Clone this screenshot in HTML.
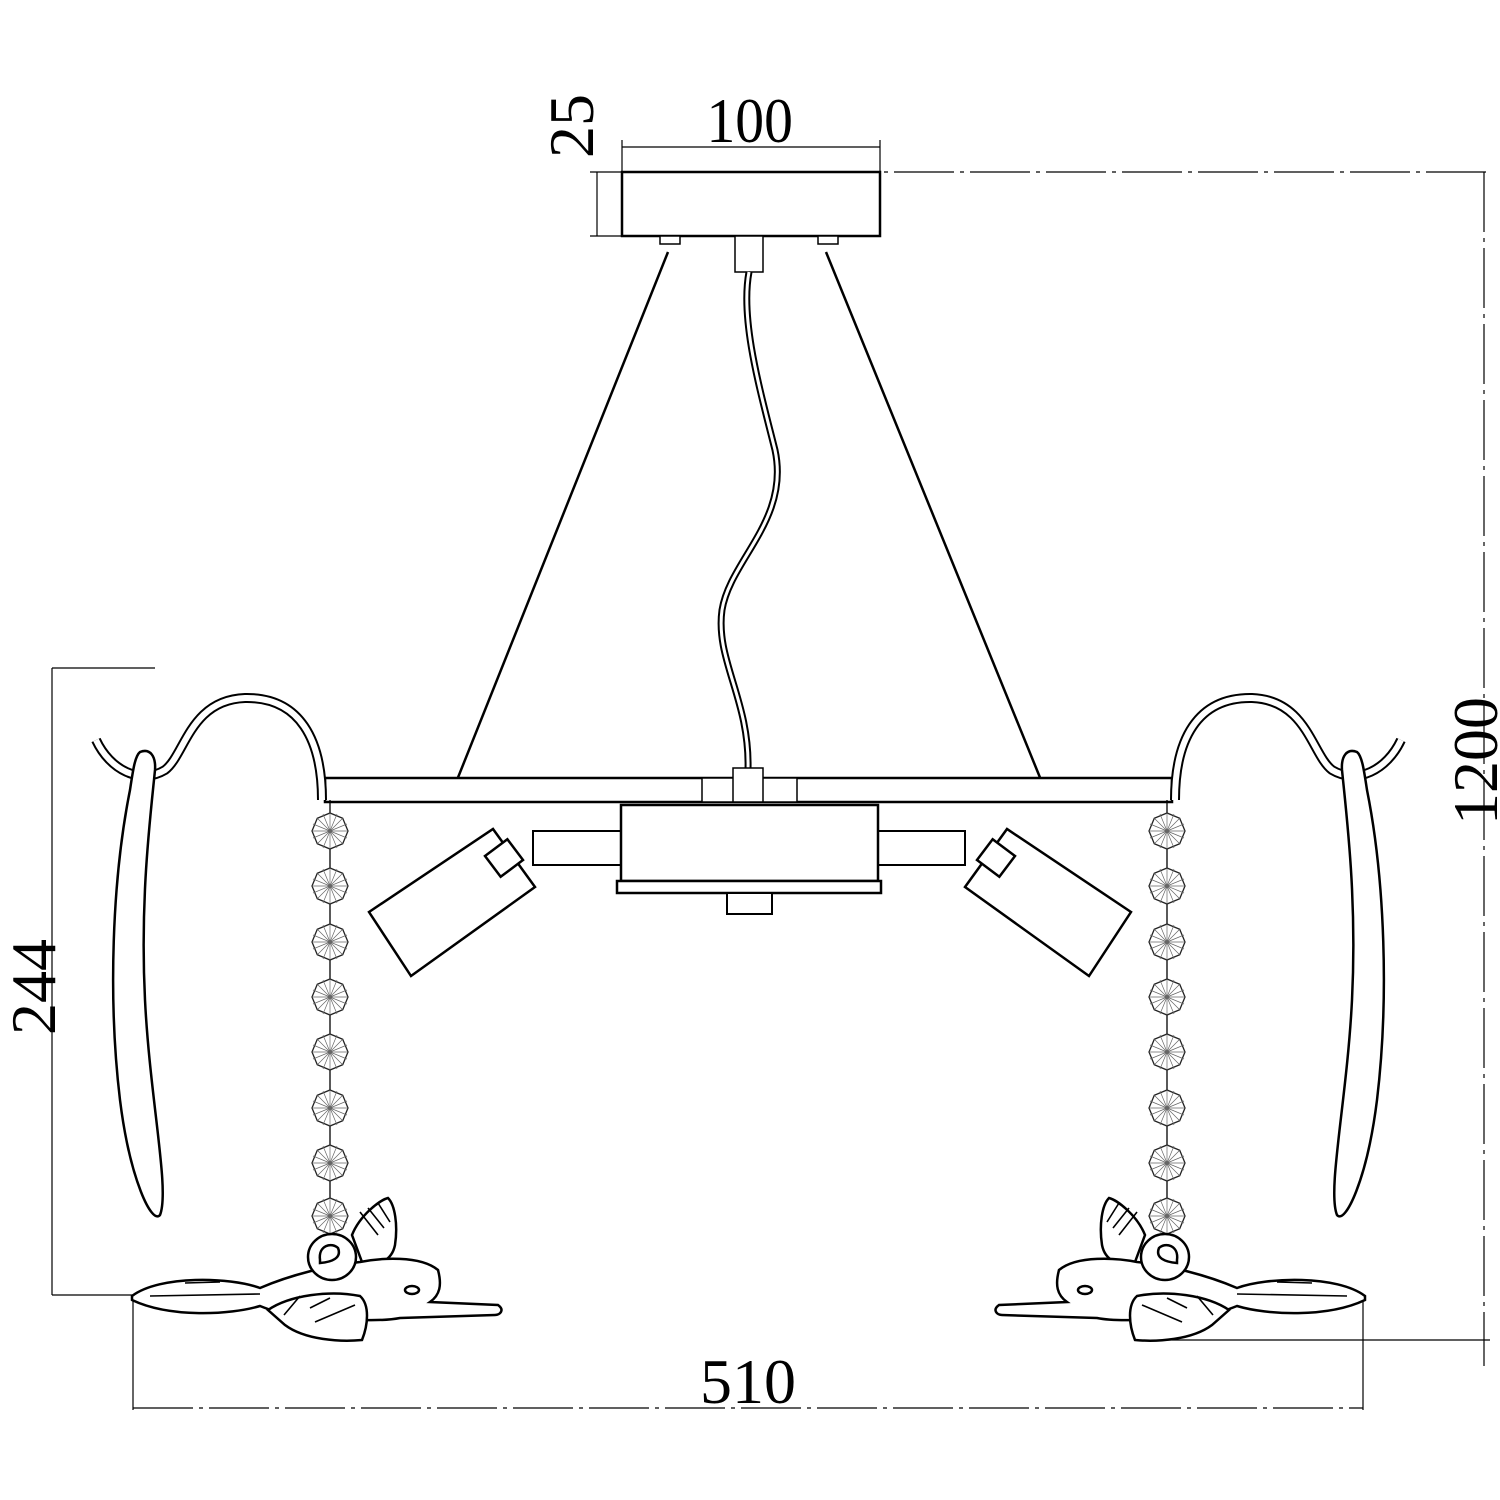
<!DOCTYPE html>
<html><head><meta charset="utf-8"><style>html,body{margin:0;padding:0;background:#fff}svg{display:block}</style></head>
<body>
<svg width="1500" height="1500" viewBox="0 0 1500 1500" xmlns="http://www.w3.org/2000/svg">
<defs>
<g id="cry">
<polygon points="0,-18 12.7,-12.7 18,0 12.7,12.7 0,18 -12.7,12.7 -18,0 -12.7,-12.7" fill="#fff" stroke="#222" stroke-width="1.3"/>
<path d="M0,-18L0,18M-18,0L18,0M-12.7,-12.7L12.7,12.7M12.7,-12.7L-12.7,12.7M-7,-17L7,17M7,-17L-7,17M-17,-7L17,7M-17,7L17,-7" stroke="#666" stroke-width="0.7"/>
</g>
<g id="half">
<!-- arm -->
<path d="M96,740 C110,770 140,785 165,770 C185,755 190,700 245,698 C300,697 322,740 322,800" fill="none" stroke="#000" stroke-width="10"/>
<path d="M96,740 C110,770 140,785 165,770 C185,755 190,700 245,698 C300,697 322,740 322,800" fill="none" stroke="#fff" stroke-width="6"/>
<!-- leaf -->
<path d="M140,752 C150,748 156,756 155,770 C150,820 140,900 145,1000 C150,1100 170,1190 160,1215 C152,1225 130,1180 120,1100 C108,1000 112,880 130,790 C133,770 135,756 140,752 Z" fill="#fff" stroke="#000" stroke-width="2.5"/>
<!-- chain -->
<line x1="330" y1="800" x2="330" y2="1240" stroke="#000" stroke-width="1.3"/>
<use href="#cry" x="330" y="831"/><use href="#cry" x="330" y="886"/><use href="#cry" x="330" y="942"/><use href="#cry" x="330" y="997"/><use href="#cry" x="330" y="1052"/><use href="#cry" x="330" y="1108"/><use href="#cry" x="330" y="1163"/><use href="#cry" x="330" y="1216"/>
<!-- bird -->
<g fill="#fff" stroke="#000" stroke-width="2.5">
<path d="M352,1235 C360,1215 380,1200 388,1198 C395,1205 398,1225 395,1245 C392,1260 378,1268 362,1262 Z"/>
<path d="M132,1296 C160,1275 230,1277 260,1288 C290,1275 330,1265 360,1262 C380,1258 420,1255 438,1270 C442,1285 440,1295 430,1302 L498,1305 C505,1310 500,1315 495,1315 L400,1318 C380,1322 340,1320 300,1315 C280,1314 270,1310 260,1306 C230,1315 170,1318 132,1300 Z"/>
<path d="M268,1310 C290,1295 330,1290 360,1296 C370,1305 368,1325 362,1340 C340,1342 305,1340 285,1325 Z"/>
<ellipse cx="332" cy="1257" rx="24" ry="23"/>
<path d="M320,1260 C318,1245 332,1242 338,1248 C342,1258 332,1262 320,1263 Z"/>
<ellipse cx="412" cy="1290" rx="7" ry="4"/>
</g>
<path d="M150,1296 L260,1294 M185,1283 L220,1282 M300,1296 L284,1315 M310,1308 L330,1298 M315,1322 L355,1305 M360,1212 L378,1235 M368,1208 L384,1228 M378,1203 L390,1222" stroke="#000" stroke-width="1.6" fill="none"/>
</g>
</defs>

<g font-family="'Liberation Serif',serif" fill="#000">
<!-- dimension lines -->
<g stroke="#000" stroke-width="1.2" fill="none">
<line x1="622" y1="147" x2="880" y2="147"/>
<line x1="622" y1="140" x2="622" y2="172"/>
<line x1="880" y1="140" x2="880" y2="172"/>
<line x1="597" y1="172" x2="597" y2="236"/>
<line x1="590" y1="236" x2="622" y2="236"/>
<line x1="590" y1="172" x2="1490" y2="172" stroke-dasharray="60,6,4,6"/>
<line x1="1484" y1="172" x2="1484" y2="1366" stroke-dasharray="60,6,4,6"/>
<line x1="1140" y1="1340" x2="1490" y2="1340"/>
<line x1="52" y1="668" x2="52" y2="1295"/>
<line x1="52" y1="668" x2="155" y2="668"/>
<line x1="52" y1="1295" x2="140" y2="1295"/>
<line x1="133" y1="1300" x2="133" y2="1410"/>
<line x1="1363" y1="1300" x2="1363" y2="1410"/>
<line x1="133" y1="1408" x2="1363" y2="1408" stroke-dasharray="60,6,4,6"/>
</g>
<text x="750" y="142" font-size="64" text-anchor="middle" transform="scale(0.9,1) translate(83,0)">100</text>
<text transform="translate(593,158) rotate(-90)" font-size="64">25</text>
<text transform="translate(1497,825) rotate(-90)" font-size="64">1200</text>
<text transform="translate(55,1035) rotate(-90)" font-size="64">244</text>
<text x="748" y="1403" font-size="64" text-anchor="middle">510</text>
</g>

<!-- canopy -->
<rect x="622" y="172" width="258" height="64" fill="#fff" stroke="#000" stroke-width="2.5"/>
<rect x="660" y="236" width="20" height="8" fill="#fff" stroke="#000" stroke-width="1.5"/>
<rect x="818" y="236" width="20" height="8" fill="#fff" stroke="#000" stroke-width="1.5"/>
<rect x="735" y="236" width="28" height="36" fill="#fff" stroke="#000" stroke-width="1.5"/>
<!-- wires -->
<line x1="668" y1="252" x2="457" y2="780" stroke="#000" stroke-width="2.5"/>
<line x1="826" y1="252" x2="1041" y2="780" stroke="#000" stroke-width="2.5"/>
<path d="M749,272 C740,320 760,390 775,450 C790,520 730,560 722,610 C715,660 750,700 748,770" fill="none" stroke="#000" stroke-width="7"/>
<path d="M749,272 C740,320 760,390 775,450 C790,520 730,560 722,610 C715,660 750,700 748,770" fill="none" stroke="#fff" stroke-width="3"/>

<!-- bar -->
<rect x="325" y="778" width="847" height="24" fill="#fff" stroke="#000" stroke-width="2.5"/>
<rect x="702" y="778" width="95" height="24" fill="#fff" stroke="#000" stroke-width="1.5"/>
<rect x="733" y="768" width="30" height="34" fill="#fff" stroke="#000" stroke-width="1.5"/>
<!-- central box -->
<rect x="533" y="831" width="432" height="34" fill="#fff" stroke="#000" stroke-width="2"/>
<rect x="621" y="805" width="257" height="76" fill="#fff" stroke="#000" stroke-width="2.5"/>
<rect x="617" y="881" width="264" height="12" fill="#fff" stroke="#000" stroke-width="2.5"/>
<rect x="727" y="893" width="45" height="21" fill="#fff" stroke="#000" stroke-width="2"/>
<!-- spotlights -->
<g fill="#fff" stroke="#000" stroke-width="2.5">
<polygon points="369,912 493,829 535,887 411,976"/>
<rect x="490" y="845" width="28" height="26" transform="rotate(-37 504 858)"/>
<polygon points="1131,912 1007,829 965,887 1089,976"/>
<rect x="982" y="845" width="28" height="26" transform="rotate(37 996 858)"/>
</g>

<use href="#half"/>
<use href="#half" transform="translate(1497,0) scale(-1,1)"/>
</svg>
</body></html>
